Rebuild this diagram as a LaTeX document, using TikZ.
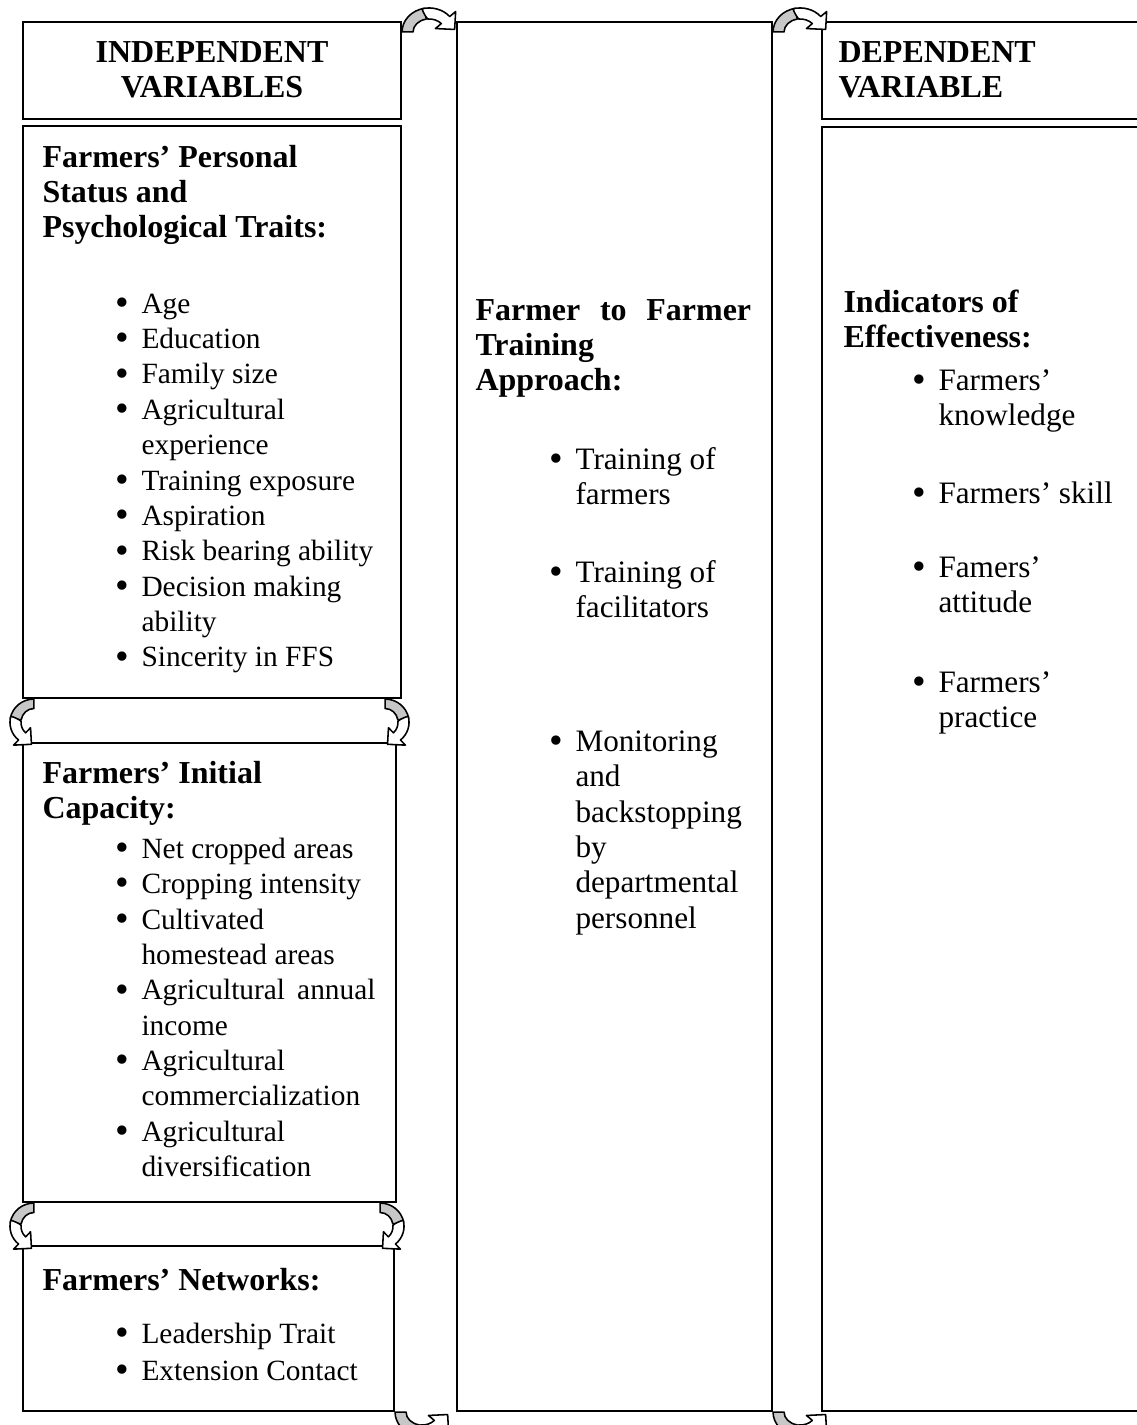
\documentclass[tikz,border=0pt]{standalone}
\usepackage{fontspec}
\setmainfont{Liberation Serif}
\usetikzlibrary{fit,calc}
% bullet cell: a large dot followed by the gap up to the item text
\newcommand\bu{\makebox[10pt][l]{\raisebox{-0.9pt}{\fontsize{15}{15}\selectfont\textbullet}}}
\begin{document}
\begin{tikzpicture}[x=0.3846pt,y=0.3846pt,
  box/.style={draw, line width=0.8pt, inner sep=0pt, fill=white},
  txt/.style={anchor=north west, inner sep=0pt, font=\fontsize{12}{13.6}\selectfont},
  smalltxt/.style={anchor=north west, inner sep=0pt, font=\fontsize{11.3}{13.6}\selectfont},
  hd/.style={txt, font=\fontsize{12.3}{13.6}\selectfont\bfseries},
  arrowline/.style={line width=0.6pt, line join=round},
  % ribbon arrow: shaded back leg at the origin, bulging towards +y,
  % front band bending over and ending in a head near (53,2)
  bentarrow/.pic={
    \draw[arrowline, fill=black!22] (0,0)
      arc[start angle=180, end angle=100, x radius=27, y radius=24]
      -- (24.22,12.8)
      arc[start angle=100, end angle=180, x radius=16, y radius=13] -- cycle;
    \draw[arrowline, fill=white] (20.01,23.18)
      arc[start angle=105, end angle=40, x radius=27, y radius=24]
      -- (53.6,20.4) -- (52.6,2.5) -- (33.4,3.4) -- (39.26,8.36)
      arc[start angle=40, end angle=95, x radius=16, y radius=13]
      .. controls (23,16) and (21,20) .. (20.01,23.18) -- cycle;
  }
]
\useasboundingbox (0,0) rectangle (1136,-1425);

% ---------- frames ----------
\node[box, fit={(23,-22)(401,-119)}] (lhead) {};
\node[box, fit={(23,-126)(401,-698)}] (lstat) {};
\node[box, fit={(23,-743)(396,-1202)}] (lcap) {};
\node[box, fit={(23,-1246)(394,-1411)}] (lnet) {};
\node[box, fit={(457,-22)(772,-1411)}] (mid) {};
\node[box, fit={(822,-22)(1160,-119)}] (rhead) {};
\node[box, fit={(822,-127)(1160,-1411)}] (rbody) {};

% ---------- bent arrows between the frames ----------
\pic at ($(lhead.north east)+(0,-11)$) {bentarrow};
\pic at ($(mid.north east)+(0,-11)$) {bentarrow};
\begin{scope}[shift={(lnet.south east)}, yscale=-1, transform shape]
  \pic {bentarrow};
\end{scope}
\begin{scope}[shift={(mid.south east)}, yscale=-1, transform shape]
  \pic {bentarrow};
\end{scope}
\begin{scope}[shift={($(lstat.south west)+(12,0)$)}, cm={0,-1,-1,0,(0,0)}, xscale=0.86, transform shape]
  \pic {bentarrow};
\end{scope}
\begin{scope}[shift={($(lstat.south east)+(-17,0)$)}, cm={0,-1,1,0,(0,0)}, xscale=0.86, transform shape]
  \pic {bentarrow};
\end{scope}
\begin{scope}[shift={($(lcap.south west)+(12,0)$)}, cm={0,-1,-1,0,(0,0)}, xscale=0.86, transform shape]
  \pic {bentarrow};
\end{scope}
\begin{scope}[shift={($(lcap.south east)+(-17,0)$)}, cm={0,-1,1,0,(0,0)}, xscale=0.86, transform shape]
  \pic {bentarrow};
\end{scope}

% ---------- headers ----------
\node[hd, anchor=north] (lheadtxt) at (212,-37.3)
  {\begin{tabular}{@{}c@{}}INDEPENDENT\\VARIABLES\end{tabular}};
\node[hd] (rheadtxt) at (838,-37.3)
  {\begin{tabular}{@{}l@{}}DEPENDENT\\VARIABLE\end{tabular}};

% ---------- personal status ----------
\node[hd] (stathd) at (42,-142)
  {\begin{tabular}{@{}l@{}}Farmers’ Personal\\Status and\\Psychological Traits:\end{tabular}};
\node[smalltxt] (statlist) at (115,-288)
  {\begin{tabular}{@{}l@{}l@{}}
   \bu & Age\\
   \bu & Education\\
   \bu & Family size\\
   \bu & Agricultural\\
       & experience\\
   \bu & Training exposure\\
   \bu & Aspiration\\
   \bu & Risk bearing ability\\
   \bu & Decision making\\
       & ability\\
   \bu & Sincerity in FFS
   \end{tabular}};

% ---------- initial capacity ----------
\node[hd] (caphd) at (42,-758)
  {\begin{tabular}{@{}l@{}}Farmers’ Initial\\Capacity:\end{tabular}};
\node[smalltxt] (caplist) at (115,-833)
  {\begin{tabular}{@{}l@{}l@{}}
   \bu & Net cropped areas\\
   \bu & Cropping intensity\\
   \bu & Cultivated\\
       & homestead areas\\
   \bu & \makebox[90pt][s]{Agricultural annual}\\
       & income\\
   \bu & Agricultural\\
       & commercialization\\
   \bu & Agricultural\\
       & diversification
   \end{tabular}};

% ---------- networks ----------
\node[hd] (nethd) at (42,-1265)
  {\begin{tabular}{@{}l@{}}Farmers’ Networks:\end{tabular}};
\node[smalltxt] (netlist) at (115,-1318)
  {\begin{tabular}{@{}l@{}l@{}}
   \bu & Leadership Trait\\[0.6pt]
   \bu & Extension Contact
   \end{tabular}};

% ---------- training approach ----------
\node[hd] (midhd) at (475,-295)
  {\begin{tabular}{@{}l@{}}\makebox[106pt][s]{Farmer to Farmer}\\Training\\Approach:\end{tabular}};
\node[txt] (mid1) at (549,-444)
  {\begin{tabular}{@{}l@{}l@{}}\bu & Training of\\ & farmers\end{tabular}};
\node[txt] (mid2) at (549,-557)
  {\begin{tabular}{@{}l@{}l@{}}\bu & Training of\\ & facilitators\end{tabular}};
\node[txt] (mid3) at (549,-726)
  {\begin{tabular}{@{}l@{}l@{}}\bu & Monitoring\\ & and\\ & backstopping\\ & by\\ & departmental\\ & personnel\end{tabular}};

% ---------- effectiveness ----------
\node[hd] (effhd) at (843,-287)
  {\begin{tabular}{@{}l@{}}Indicators of\\Effectiveness:\end{tabular}};
\node[txt] (eff1) at (912,-365)
  {\begin{tabular}{@{}l@{}l@{}}\bu & Farmers’\\ & knowledge\end{tabular}};
\node[txt] (eff2) at (912,-478)
  {\begin{tabular}{@{}l@{}l@{}}\bu & Farmers’ skill\end{tabular}};
\node[txt] (eff3) at (912,-552)
  {\begin{tabular}{@{}l@{}l@{}}\bu & Famers’\\ & attitude\end{tabular}};
\node[txt] (eff4) at (912,-667)
  {\begin{tabular}{@{}l@{}l@{}}\bu & Farmers’\\ & practice\end{tabular}};
\end{tikzpicture}
\end{document}
